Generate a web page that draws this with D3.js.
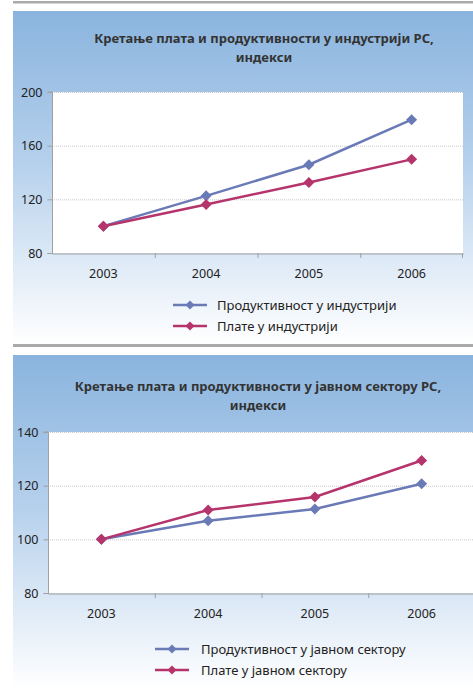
<!DOCTYPE html>
<html><head><meta charset="utf-8">
<script src="https://cdn.jsdelivr.net/npm/d3@7"></script>
<style>
html,body{margin:0;padding:0;background:#fff;}
svg{display:block;}
</style></head>
<body>
<svg id="c" width="473" height="689"></svg>
<script>
const years = ["2003","2004","2005","2006"];
// Chart 1: industry
const title1 = ["Кретање плата и продуктивности у индустрији РС,", "индекси"];
const prodIndustry = [100, 122.6, 145.8, 179.4];
const wageIndustry = [100, 116.1, 132.6, 149.8];
const legend1 = ["Продуктивност у индустрији", "Плате у индустрији"];
const ticks1 = [80, 120, 160, 200];
// Chart 2: public sector
const title2 = ["Кретање плата и продуктивности у јавном сектору РС,", "индекси"];
const prodPublic = [100, 106.9, 111.3, 120.7];
const wagePublic = [100, 110.9, 115.8, 129.4];
const legend2 = ["Продуктивност у јавном сектору", "Плате у јавном сектору"];
const ticks2 = [80, 100, 120, 140];

const colors = ["#6a7ab7", "#b6346c"];
const FONT = "Noto Sans";
const svg = d3.select("#c");
const defs = svg.append("defs");
const grad = defs.append("linearGradient").attr("id","bg").attr("x1",0).attr("y1",0).attr("x2",0).attr("y2",1);
grad.append("stop").attr("offset","0%").attr("stop-color","#8ab4de");
grad.append("stop").attr("offset","45%").attr("stop-color","#b5d0ec");
grad.append("stop").attr("offset","100%").attr("stop-color","#ffffff");

// gray rules
svg.append("rect").attr("x",13).attr("y",1).attr("width",460).attr("height",2.5).attr("fill","#aaaaaa");
svg.append("rect").attr("x",13).attr("y",344).attr("width",460).attr("height",3).attr("fill","#aaaaaa");

const diamondPath = r => `M0,${-r}L${r},0L0,${r}L${-r},0Z`;

function chart(cfg){
  const g = svg.append("g");
  g.append("rect").attr("x",13).attr("y",cfg.top).attr("width",460).attr("height",cfg.bottom-cfg.top).attr("fill","url(#bg)");
  const t = g.append("text").attr("text-anchor","middle").attr("font-family",FONT).attr("font-weight","bold")
    .attr("font-size",13).attr("fill","#333");
  cfg.title.forEach((s,i)=>t.append("tspan").attr("x",cfg.titleX).attr("y",cfg.titleY+i*19).text(s));

  const x = d3.scaleBand().domain(years).range([cfg.x0,cfg.x1]);
  const y = d3.scaleLinear().domain([cfg.ticks[0], cfg.ticks[cfg.ticks.length-1]]).range([cfg.y0,cfg.y1]);
  g.append("rect").attr("x",cfg.x0).attr("y",cfg.y1).attr("width",cfg.x1-cfg.x0).attr("height",cfg.y0-cfg.y1).attr("fill","#fff");
  // grid
  g.selectAll(".grid").data(cfg.ticks.slice(1)).join("line")
    .attr("x1",cfg.x0).attr("x2",cfg.x1).attr("y1",d=>y(d)+0.5).attr("y2",d=>y(d)+0.5)
    .attr("stroke","#c8c8c8").attr("stroke-dasharray","1,1").attr("stroke-width",1);
  // y axis
  const ya = g.append("g").attr("transform",`translate(${cfg.x0+0.5},0)`)
    .call(d3.axisLeft(y).tickValues(cfg.ticks).tickSize(5).tickPadding(5));
  ya.select(".domain").attr("stroke","#a0a0a0").attr("d",`M-5,${cfg.y0+0.5}H0V${cfg.y1}H-5`);
  ya.selectAll(".tick line").attr("stroke","#a0a0a0");
  ya.selectAll("text").attr("font-family",FONT).attr("font-size",12.5).attr("fill","#222");
  // x axis
  const xa = g.append("g").attr("transform",`translate(0,${cfg.y0+0.5})`)
    .call(d3.axisBottom(x).tickSize(0).tickPadding(16));
  xa.select(".domain").attr("stroke","#a0a0a0");
  xa.selectAll("text").attr("font-family",FONT).attr("font-size",12.5).attr("fill","#222");
  g.selectAll(".xt").data(years.slice(1).concat(["end"])).join("line")
    .attr("x1",(d,i)=> i<3 ? x(d)+0.5 : cfg.x1-0.5).attr("x2",(d,i)=> i<3 ? x(d)+0.5 : cfg.x1-0.5)
    .attr("y1",cfg.y0).attr("y2",cfg.y0+5).attr("stroke","#a0a0a0");

  const line = d3.line().x((d,i)=>x(years[i])+x.bandwidth()/2).y(d=>y(d));
  cfg.series.forEach((s,k)=>{
    g.append("path").attr("d",line(s)).attr("fill","none").attr("stroke",colors[k]).attr("stroke-width",2.5);
  });
  cfg.series.forEach((s,k)=>{
    g.selectAll(null).data(s).join("path").attr("d",diamondPath(5.5))
      .attr("transform",(d,i)=>`translate(${x(years[i])+x.bandwidth()/2},${y(d)})`).attr("fill",colors[k]);
  });
  // legend
  cfg.legend.forEach((s,k)=>{
    const ly = cfg.legY + k*21;
    g.append("line").attr("x1",cfg.legX).attr("x2",cfg.legX+34).attr("y1",ly).attr("y2",ly).attr("stroke",colors[k]).attr("stroke-width",2.5);
    g.append("path").attr("d",diamondPath(4.5)).attr("transform",`translate(${cfg.legX+17},${ly})`).attr("fill",colors[k]);
    g.append("text").attr("x",cfg.legTextX).attr("y",ly+4.5).attr("font-family",FONT).attr("font-size",13)
      .attr("fill","#222").text(s);
  });
}

chart({top:11,bottom:344,title:title1,titleX:264,titleY:43,x0:52,x1:463,y0:253,y1:92,ticks:ticks1,
  series:[prodIndustry,wageIndustry],legend:legend1,legX:173,legTextX:217,legY:305});
chart({top:355,bottom:689,title:title2,titleX:258,titleY:391,x0:48,x1:475,y0:593,y1:432,ticks:ticks2,
  series:[prodPublic,wagePublic],legend:legend2,legX:155,legTextX:201,legY:649});
</script>
</body></html>
